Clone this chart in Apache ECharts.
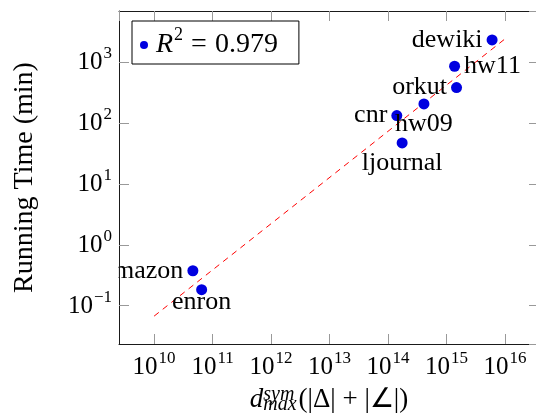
<!DOCTYPE html>
<html>
<head>
<meta charset="utf-8">
<script src="https://cdn.jsdelivr.net/npm/echarts@6/dist/echarts.min.js"></script>
<style>html,body{margin:0;padding:0;background:#fff}#c{width:536px;height:420px}</style>
</head>
<body>
<div id="c"></div>
<script>
// Data
const names = ['amazon', 'enron', 'cnr', 'ljournal', 'hw09', 'hw11', 'orkut', 'dewiki'];
const xValues = [4.6e10, 6.5e10, 1.41e14, 1.74e14, 4.1e14, 1.37e15, 1.48e15, 6.0e15];
const yValues = [0.375, 0.183, 132, 47, 205, 850, 380, 2300];
const r2Text = '0.979';
const fitFrom = 1e10, fitTo = 1e16;

// label placement (style)
const labelPos = {amazon:'left', enron:'bottom', cnr:'left', ljournal:'bottom', hw09:'bottom', hw11:'right', orkut:'left', dewiki:'left'};
const labelDist = {amazon:4, enron:-6, cnr:4, ljournal:2, hw09:2, hw11:4, orkut:4, dewiki:4};

// least squares fit in log-log space
const lx = xValues.map(Math.log10), ly = yValues.map(Math.log10);
const mx = lx.reduce((a,b)=>a+b,0)/lx.length, my = ly.reduce((a,b)=>a+b,0)/ly.length;
let sxy = 0, sxx = 0;
lx.forEach((v,i)=>{ sxy += (v-mx)*(ly[i]-my); sxx += (v-mx)*(v-mx); });
const slope = sxy/sxx, icpt = my - slope*mx;
const fitLine = [fitFrom, fitTo].map(x => [x, Math.pow(10, icpt + slope*Math.log10(x))]);

const FONT = 'Liberation Serif';
const TFS = 25;
const rich = {
  b: {fontFamily: FONT, fontSize: TFS, color: '#000', lineHeight: 26, verticalAlign: 'bottom'},
  s: {fontFamily: FONT, fontSize: 17, color: '#000', lineHeight: 20, verticalAlign: 'bottom', padding: [0, 0, 13, 1]}
};
function expLabel(v) {
  const e = Math.round(Math.log10(v));
  return '{b|10}{s|' + (e < 0 ? '\u2212' + (-e) : e) + '}';
}

const xMin = Math.pow(10, 9.40), xMax = Math.pow(10, 16.58);
const yMin = Math.pow(10, -1.628), yMax = Math.pow(10, 3.836);

const baseAxis = {
  type: 'log', logBase: 10, z: 10,
  axisLine: {show: true, lineStyle: {color: '#1a1a1a', width: 1}},
  axisTick: {show: true, inside: true, length: 10, lineStyle: {color: '#999', width: 1}},
  splitLine: {show: false},
  minorTick: {show: false}
};

const chart = echarts.init(document.getElementById('c'), null, {renderer: 'canvas'});
chart.setOption({
  animation: false,
  backgroundColor: '#fff',
  grid: {left: 119, right: -3, top: 11, bottom: 76, containLabel: false, outerBoundsMode: 'none'},
  graphic: [{
    type: 'rect', z: 5, silent: true,
    shape: {x: 0, y: 0, width: 118.5, height: 420},
    style: {fill: '#fff'}
  }],
  legend: {
    show: true, z: 12,
    left: 132, top: 21,
    data: [{name: 'fit', icon: 'circle'}],
    itemWidth: 8, itemHeight: 8,
    padding: [5, 21, 5, 8],
    backgroundColor: '#fff',
    borderColor: '#000', borderWidth: 1, borderRadius: 0,
    formatter: () => '{i|R}{s|2}{e|=}{b|' + r2Text + '}',
    textStyle: {
      rich: {
        i: {fontFamily: FONT, fontStyle: 'italic', fontSize: 28, color: '#000', lineHeight: 28, verticalAlign: 'bottom', padding: [0, 0, 0, 3], align: 'left'},
        s: {fontFamily: FONT, fontSize: 18, color: '#000', lineHeight: 20, verticalAlign: 'bottom', padding: [0, 0, 15, 1], align: 'left'},
        e: {fontFamily: FONT, fontSize: 28, color: '#000', lineHeight: 28, verticalAlign: 'bottom', padding: [0, 8, 0, 8], align: 'left'},
        b: {fontFamily: FONT, fontSize: 28, color: '#000', lineHeight: 28, verticalAlign: 'bottom', align: 'left'}
      }
    }
  },
  xAxis: [
    Object.assign({}, baseAxis, {
      min: xMin, max: xMax, position: 'bottom',
      axisLabel: {show: true, margin: 10, showMinLabel: false, showMaxLabel: false, formatter: expLabel, rich: rich},
      name: '{i|d}{sup|sym}{sub|max}{n|(|\u0394| + |\u2220|)}',
      nameLocation: 'middle', nameGap: 35,
      nameTextStyle: {
        rich: {
          i: {fontFamily: FONT, fontStyle: 'italic', fontSize: 27, color: '#000', lineHeight: 30, verticalAlign: 'middle', align: 'left'},
          sup: {fontFamily: FONT, fontStyle: 'italic', fontSize: 20, color: '#000', lineHeight: 20, verticalAlign: 'top', width: 0, align: 'left'},
          sub: {fontFamily: FONT, fontStyle: 'italic', fontSize: 20, color: '#000', lineHeight: 7, verticalAlign: 'bottom', align: 'left', padding: [0, 2, 0, 0]},
          n: {fontFamily: FONT, fontSize: 27, color: '#000', lineHeight: 30, verticalAlign: 'middle', align: 'left'}
        }
      }
    }),
    Object.assign({}, baseAxis, {
      min: xMin, max: xMax, position: 'top',
      axisLabel: {show: false}
    })
  ],
  yAxis: [
    Object.assign({}, baseAxis, {
      min: yMin, max: yMax, position: 'left',
      axisLabel: {show: true, margin: 7, showMinLabel: false, showMaxLabel: false, formatter: expLabel, rich: rich},
      name: 'Running Time (min)',
      nameLocation: 'middle', nameGap: 80,
      nameTextStyle: {fontFamily: FONT, fontSize: 28, color: '#000'}
    }),
    Object.assign({}, baseAxis, {
      min: yMin, max: yMax, position: 'right',
      axisLabel: {show: false}
    })
  ],
  series: [
    {
      name: 'fit-line', type: 'line', data: fitLine, showSymbol: false, symbol: 'none',
      lineStyle: {color: '#ff0000', width: 1, type: [6, 5]}, silent: true, z: 1
    },
    {
      name: 'fit', type: 'scatter', symbol: 'circle', symbolSize: 11,
      itemStyle: {color: '#0000e0', opacity: 1},
      z: 3,
      data: names.map((n, i) => ({
        name: n, value: [xValues[i], yValues[i]],
        label: {show: true, position: labelPos[n], distance: labelDist[n], formatter: n,
                fontFamily: FONT, fontSize: 26, color: '#000'}
      }))
    }
  ]
});
</script>
</body>
</html>
